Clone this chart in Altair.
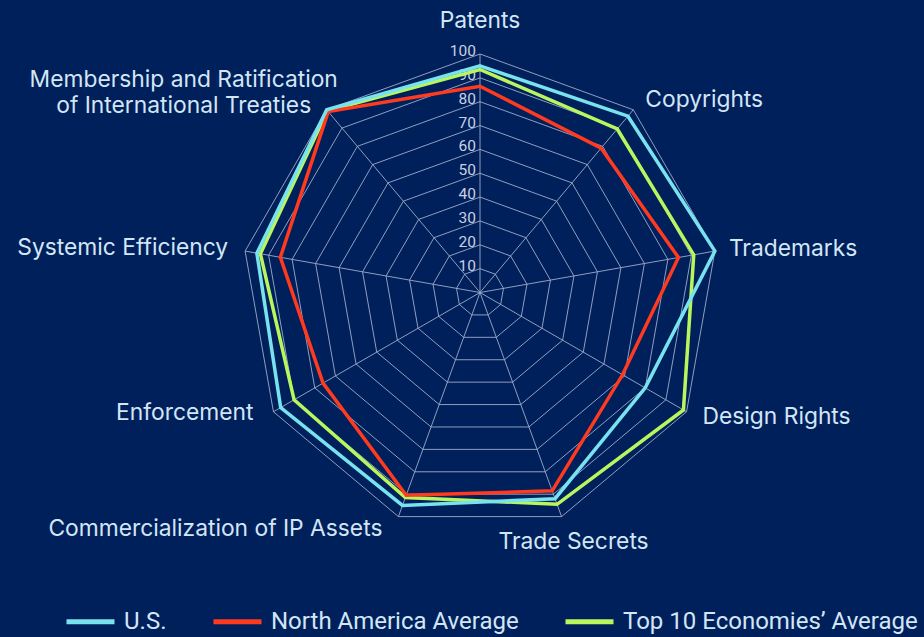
import altair as alt
import pandas as pd

CATEGORIES = [
    "Patents",
    "Copyrights",
    "Trademarks",
    "Design Rights",
    "Trade Secrets",
    "Commercialization of IP Assets",
    "Enforcement",
    "Systemic Efficiency",
    "Membership and Ratification\nof International Treaties",
]
SERIES = ["U.S.", "North America Average", "Top 10 Economies’ Average"]
US = [95, 96.5, 100, 80, 92, 95, 96.5, 95, 100]
NA_AVG = [86.5, 79, 84.5, 69, 88.5, 90.5, 76, 85, 99]
TOP10 = [93.5, 89.5, 91, 98.5, 94.5, 91.5, 90, 93.5, 99.5]
RING_LEVELS = [10, 20, 30, 40, 50, 60, 70, 80, 90, 100]
RING_LABELS = ["10", "20", "30", "40", "50", "60", "70", "80", "90", "100"]

COLORS = ["#78e3ef", "#ff3a1f", "#b9f65e"]
BG = "#00205b"
GRID = "#9fadca"
LABEL_COLOR = "#d3e6f6"
TICK_COLOR = "#c8d0e2"
FONT = "Inter"

# layout (page margin removed, so view == page)
W, H = 924, 637
CX, CY = 480, 292.5      # centre of the web (px)
K = 2.385                # px per value unit
xs = alt.Scale(domain=[-CX / K, (W - CX) / K], zero=False, nice=False)
ys = alt.Scale(domain=[-(H - CY) / K, CY / K], zero=False, nice=False)

N = len(CATEGORIES)
ANG = f"PI/2 - datum.i*2*PI/{N}"


def polar(chart):
    return chart.transform_calculate(
        ang=ANG,
        px="datum.value*cos(datum.ang)",
        py="datum.value*sin(datum.ang)",
        zero="0",
    )


X = alt.X("px:Q", scale=xs, axis=None)
Y = alt.Y("py:Q", scale=ys, axis=None)

# grid rings
grid_df = pd.DataFrame(
    [{"i": i, "level": lv, "value": lv} for lv in RING_LEVELS for i in range(N)]
)
rings = polar(alt.Chart(grid_df)).mark_line(
    interpolate="linear-closed", stroke=GRID, strokeWidth=0.9
).encode(x=X, y=Y, detail="level:Q", order="i:Q")

spoke_df = pd.DataFrame([{"i": i, "value": 100} for i in range(N)])
spokes = polar(alt.Chart(spoke_df)).mark_rule(stroke=GRID, strokeWidth=0.9).encode(
    x=alt.X("zero:Q", scale=xs, axis=None),
    y=alt.Y("zero:Q", scale=ys, axis=None),
    x2="px:Q",
    y2="py:Q",
)

tick_df = pd.DataFrame({"value": RING_LEVELS, "label": RING_LABELS, "i": 0})
ticks = polar(alt.Chart(tick_df)).mark_text(
    align="right", baseline="alphabetic", dx=-4, dy=2,
    font="Roboto", fontSize=15.5, color=TICK_COLOR,
).encode(x=X, y=Y, text="label:N")

# series
rows = []
for s, vals in [(SERIES[2], TOP10), (SERIES[1], NA_AVG), (SERIES[0], US)]:
    for i, v in enumerate(vals):
        rows.append({"series": s, "i": i, "value": v})
series_df = pd.DataFrame(rows)

lines = polar(alt.Chart(series_df)).mark_line(
    interpolate="linear-closed", strokeWidth=3.5
).encode(
    x=X,
    y=Y,
    order="i:Q",
    color=alt.Color(
        "series:N",
        scale=alt.Scale(domain=SERIES, range=COLORS),
        legend=alt.Legend(
            title=None,
            orient="none",
            legendX=64,
            legendY=595,
            direction="horizontal",
            symbolType="stroke",
            symbolSize=2304,
            symbolStrokeWidth=5,
            labelFont="Roboto",
            labelFontSize=24,
            labelColor=LABEL_COLOR,
            labelLimit=0,
            columnPadding=36,
            labelOffset=7,
            padding=0,
        ),
    ),
)

# category labels: (align, dx, dy) relative to the outer vertex
LABEL_LAYOUT = [
    ("center", 0, -33),
    ("left", 12, -10),
    ("left", 14, -2),
    ("left", 16, 5),
    ("center", 12, 25),
    ("right", -16, 12),
    ("right", -20, 1),
    ("right", -17, -3),
    ("center", -143, -30),
]
label_layers = []
for i, (name, (al, dx, dy)) in enumerate(zip(CATEGORIES, LABEL_LAYOUT)):
    ldf = pd.DataFrame([{"i": i, "value": 100, "name": name}])
    label_layers.append(
        polar(alt.Chart(ldf)).mark_text(
            align=al, baseline="middle", dx=dx, dy=dy,
            font=FONT, fontSize=22.8, color=LABEL_COLOR,
            lineBreak="\n", lineHeight=26,
        ).encode(x=X, y=Y, text="name:N")
    )

chart = alt.layer(rings, spokes, ticks, lines, *label_layers).properties(
    width=W,
    height=H,
    background=BG,
    padding=0,
    autosize=alt.AutoSizeParams(type="none"),
).configure_view(strokeWidth=0)

chart.save(
    "out.html",
    embed_options={
        "renderer": "svg",
        "actions": False,
        "defaultStyle": "html,body{margin:0;padding:0;background:#00205b;overflow:hidden}",
    },
)
